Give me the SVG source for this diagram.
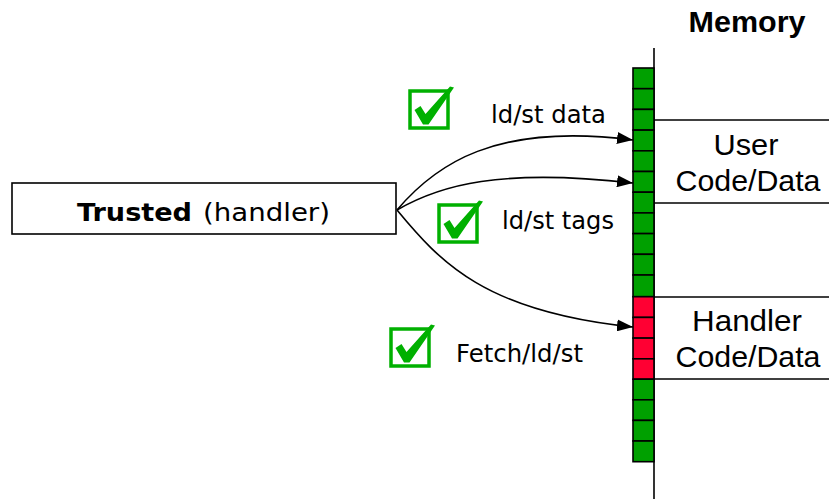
<svg xmlns="http://www.w3.org/2000/svg" width="829" height="499" viewBox="0 0 829 499">
  <style>
    .lbl { font-family: "DejaVu Sans", Verdana, sans-serif; font-size: 25px; fill: #000; }
    .mem { font-family: "Liberation Sans", Arial, sans-serif; font-size: 29px; fill: #000; text-anchor: middle; }
    .edge { fill: none; stroke: #000; stroke-width: 1.6; }
    .rule { stroke: #000; stroke-width: 1.6; }
    .cell-ok { fill: #00a000; stroke: #000; stroke-width: 1.6; }
    .cell-bad { fill: #ff0033; stroke: #000; stroke-width: 1.6; }
    .chk-box { fill: none; stroke: #00b000; stroke-width: 3.5; }
    .chk-mark { fill: #00b000; }
  </style>
  <defs>
    <marker id="arrow" viewBox="0 0 16 12" refX="16" refY="6" markerWidth="16" markerHeight="12" markerUnits="userSpaceOnUse" orient="auto">
      <path d="M0,0 L16,6 L0,12 Z" fill="#000"/>
    </marker>
    <g id="check">
      <rect class="chk-box" x="0" y="0" width="38" height="37"/>
      <path class="chk-mark" d="M4.5,19 L10.5,15 L15.5,23 L40,-4.5 L44,-3.5 L18.5,33.5 L13,33.5 Z"/>
    </g>
  </defs>

  <!-- memory address line and region separators -->
  <g id="memory">
    <line class="rule" x1="654" y1="48" x2="654" y2="499"/>
    <line class="rule" x1="654" y1="120" x2="829" y2="120"/>
    <line class="rule" x1="654" y1="203" x2="829" y2="203"/>
    <line class="rule" x1="654" y1="297" x2="829" y2="297"/>
    <line class="rule" x1="654" y1="379" x2="829" y2="379"/>
    <text x="747" y="32" class="mem" font-size="28" font-weight="bold" textLength="117" lengthAdjust="spacingAndGlyphs">Memory</text>
  </g>

  <!-- tagged memory words -->
  <g id="tag-column">
    <rect class="cell-ok" x="633" y="68" width="21" height="20.7"/>
    <rect class="cell-ok" x="633" y="88.7" width="21" height="20.7"/>
    <rect class="cell-ok" x="633" y="109.4" width="21" height="20.7"/>
    <rect class="cell-ok" x="633" y="130.1" width="21" height="20.7"/>
    <rect class="cell-ok" x="633" y="150.8" width="21" height="20.7"/>
    <rect class="cell-ok" x="633" y="171.5" width="21" height="20.7"/>
    <rect class="cell-ok" x="633" y="192.2" width="21" height="20.7"/>
    <rect class="cell-ok" x="633" y="212.9" width="21" height="20.7"/>
    <rect class="cell-ok" x="633" y="233.6" width="21" height="20.7"/>
    <rect class="cell-ok" x="633" y="254.3" width="21" height="20.7"/>
    <rect class="cell-ok" x="633" y="275" width="21" height="21.7"/>
    <rect class="cell-bad" x="633" y="296.7" width="21" height="20.7"/>
    <rect class="cell-bad" x="633" y="317.4" width="21" height="20.7"/>
    <rect class="cell-bad" x="633" y="338.1" width="21" height="20.7"/>
    <rect class="cell-bad" x="633" y="358.8" width="21" height="20.4"/>
    <rect class="cell-ok" x="633" y="379.2" width="21" height="20.6"/>
    <rect class="cell-ok" x="633" y="399.8" width="21" height="20.6"/>
    <rect class="cell-ok" x="633" y="420.4" width="21" height="20.6"/>
    <rect class="cell-ok" x="633" y="441" width="21" height="20.7"/>
  </g>

  <g id="user-region">
    <text x="746" y="155" class="mem" textLength="65" lengthAdjust="spacingAndGlyphs">User</text>
    <text x="748" y="191" class="mem" textLength="145" lengthAdjust="spacingAndGlyphs">Code/Data</text>
  </g>

  <g id="handler-region">
    <text x="747" y="331" class="mem" textLength="110" lengthAdjust="spacingAndGlyphs">Handler</text>
    <text x="748" y="367" class="mem" textLength="145" lengthAdjust="spacingAndGlyphs">Code/Data</text>
  </g>

  <g id="trusted">
    <rect x="12" y="183" width="384" height="51" fill="#fff" stroke="#000" stroke-width="1.6"/>
    <text x="77" y="221" class="lbl" font-size="28" font-weight="bold" textLength="115" lengthAdjust="spacingAndGlyphs">Trusted</text>
    <text x="203" y="221" class="lbl" font-size="28" textLength="127" lengthAdjust="spacingAndGlyphs">(handler)</text>
  </g>

  <!-- accesses from the trusted handler into memory -->
  <g id="connectors">
    <path class="edge" d="M397,210 C435,165 495,122 633,140" marker-end="url(#arrow)"/>
    <path class="edge" d="M397,210 C440,185 500,168 633,183" marker-end="url(#arrow)"/>
    <path class="edge" d="M397,210 C440,262 485,312 633,327" marker-end="url(#arrow)"/>
  </g>

  <g id="label-data">
    <use href="#check" x="410" y="91"/>
    <text x="491" y="123" class="lbl" textLength="115" lengthAdjust="spacingAndGlyphs">ld/st data</text>
  </g>
  <g id="label-tags">
    <use href="#check" x="439" y="205"/>
    <text x="502" y="229" class="lbl" textLength="112" lengthAdjust="spacingAndGlyphs">ld/st tags</text>
  </g>
  <g id="label-fetch">
    <use href="#check" x="391" y="329"/>
    <text x="456" y="362" class="lbl" textLength="127" lengthAdjust="spacingAndGlyphs">Fetch/ld/st</text>
  </g>
</svg>
